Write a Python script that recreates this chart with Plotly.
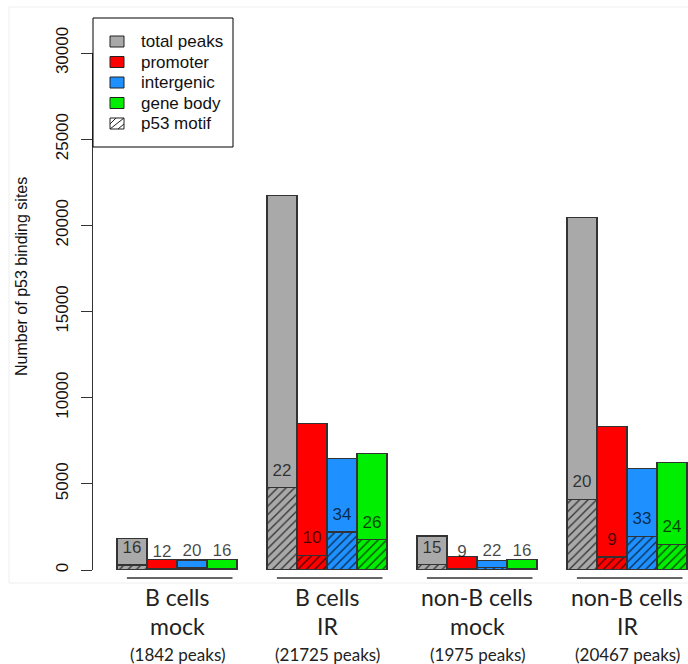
import plotly.graph_objects as go

# ---- data -------------------------------------------------------------
group_line1 = ["B cells", "B cells", "non-B cells", "non-B cells"]
group_line2 = ["mock", "IR", "mock", "IR"]
total_peaks = [1842, 21725, 1975, 20467]
promoter = [625, 8500, 790, 8340]
intergenic = [585, 6470, 560, 5880]
gene_body = [632, 6755, 625, 6247]

# percentage of sites carrying a p53 motif
motif_total = [16, 22, 15, 20]
motif_promoter = [12, 10, 9, 9]
motif_intergenic = [20, 34, 22, 33]
motif_gene_body = [16, 26, 16, 24]

y_ticks = [0, 5000, 10000, 15000, 20000, 25000, 30000]

categories = ["total peaks", "promoter", "intergenic", "gene body"]
series = [total_peaks, promoter, intergenic, gene_body]
motif_pct = [motif_total, motif_promoter, motif_intergenic, motif_gene_body]
colors = ["#A9A9A9", "#FF0000", "#1E90FF", "#00EE00"]

# ---- geometry helpers (plot area in pixels) ---------------------------
W, H = 688, 664
L, R, T, B = 93, 688, 53, 570


def fx(px):
    return (px - L) / (R - L)


def fy(py):
    return (B - py) / (B - T)


n_groups = len(total_peaks)
outline = dict(color="#333333", width=1.2)

fig = go.Figure()

# bars: hatched motif part at the base, plain remainder stacked on top
for k, (name, vals, pcts, col) in enumerate(zip(categories, series, motif_pct, colors)):
    xs = [1 + 5 * g + k + 0.5 for g in range(n_groups)]
    motif = [v * p / 100 for v, p in zip(vals, pcts)]
    rest = [v - m for v, m in zip(vals, motif)]
    fig.add_trace(go.Bar(
        x=xs, y=motif, width=1, showlegend=False, hoverinfo="skip",
        marker=dict(color=col, line=outline,
                    pattern=dict(shape="/", fillmode="replace", bgcolor=col,
                                 fgcolor="#000000", fgopacity=0.7,
                                 size=6, solidity=0.22)),
    ))
    fig.add_trace(go.Bar(
        x=xs, y=rest, width=1, name=name, showlegend=False, hoverinfo="skip",
        marker=dict(color=col, line=outline),
    ))
    fig.add_trace(go.Scatter(
        x=xs, y=[m + 950 for m in motif], mode="text",
        text=[str(p) for p in pcts], showlegend=False, hoverinfo="skip",
        textfont=dict(family="Liberation Sans, Arial, sans-serif", size=17,
                      color="rgba(0,0,0,0.72)"),
    ))

shapes = []
annotations = []

# faint frame of the plotting canvas
shapes.append(dict(type="rect", xref="paper", yref="paper", layer="below",
                   x0=fx(9), x1=fx(700), y0=fy(583), y1=fy(7),
                   line=dict(color="#eeeeee", width=1), fillcolor="rgba(0,0,0,0)"))

# group underlines and group labels
for g in range(n_groups):
    start = 1 + 5 * g
    shapes.append(dict(type="line", xref="x", yref="paper",
                       x0=start + 0.33, x1=start + 3.85, y0=fy(578), y1=fy(578),
                       line=dict(color="#333333", width=1.5)))
    cx = start + 2
    annotations.append(dict(x=cx, y=fy(597), xref="x", yref="paper",
                            text=group_line1[g], showarrow=False,
                            xanchor="center", yanchor="middle",
                            font=dict(family="Lato, sans-serif", size=23, color="#222222")))
    annotations.append(dict(x=cx, y=fy(626), xref="x", yref="paper",
                            text=group_line2[g], showarrow=False,
                            xanchor="center", yanchor="middle",
                            font=dict(family="Lato, sans-serif", size=23, color="#222222")))
    annotations.append(dict(x=cx, y=fy(654), xref="x", yref="paper",
                            text=f"({total_peaks[g]} peaks)", showarrow=False,
                            xanchor="center", yanchor="middle",
                            font=dict(family="Lato, sans-serif", size=17, color="#222222")))

# legend box
shapes.append(dict(type="rect", xref="paper", yref="paper",
                   x0=fx(93), x1=fx(233), y0=fy(147), y1=fy(18),
                   line=dict(color="#000000", width=1), fillcolor="white"))
legend_rows = [41.5, 62, 82.5, 103, 123.5]
legend_labels = categories + ["p53 motif"]
legend_fill = colors + ["white"]
for lbl, fill, row in zip(legend_labels, legend_fill, legend_rows):
    shapes.append(dict(type="rect", xref="paper", yref="paper",
                       x0=fx(110), x1=fx(124), y0=fy(row + 5.5), y1=fy(row - 5.5),
                       line=dict(color="#222222", width=1), fillcolor=fill))
    annotations.append(dict(x=fx(139), y=fy(row), xref="paper", yref="paper",
                            text=lbl, showarrow=False, xanchor="left", yanchor="middle",
                            font=dict(family="Liberation Sans, Arial, sans-serif",
                                      size=17, color="#111111")))
# hatch strokes on the motif swatch
hr = legend_rows[-1]
for (ax, ay, bx, by) in [(110, hr + 5.5, 124, hr - 5.5),
                         (110, hr + 0.5, 116, hr - 5.5),
                         (118, hr + 5.5, 124, hr + 0.5)]:
    shapes.append(dict(type="line", xref="paper", yref="paper",
                       x0=fx(ax), x1=fx(bx), y0=fy(ay), y1=fy(by),
                       line=dict(color="#222222", width=1)))

# y axis title
annotations.append(dict(x=fx(21), y=fy(277), xref="paper", yref="paper",
                        text="Number of p53 binding sites", textangle=-90,
                        showarrow=False, xanchor="center", yanchor="middle",
                        font=dict(family="Liberation Sans, Arial, sans-serif",
                                  size=16, color="#111111")))

fig.update_layout(
    width=W, height=H,
    margin=dict(l=L, r=W - R, t=T, b=H - B, pad=0),
    barmode="stack",
    paper_bgcolor="white", plot_bgcolor="rgba(0,0,0,0)",
    showlegend=False,
    shapes=shapes, annotations=annotations,
    xaxis=dict(range=[(L - 87) / 30, (R - 87) / 30], visible=False,
               showgrid=False, zeroline=False),
    yaxis=dict(range=[0, 30000], tickvals=y_ticks, ticktext=[str(v) for v in y_ticks],
               tickangle=-90, ticks="outside", ticklen=11, tickcolor="#333333",
               tickwidth=1, showline=True, linecolor="#333333", linewidth=1,
               showgrid=False, zeroline=False, ticklabelstandoff=6,
               tickfont=dict(family="Liberation Sans, Arial, sans-serif", size=17,
                             color="#111111")),
)

fig.write_html("out.html")
